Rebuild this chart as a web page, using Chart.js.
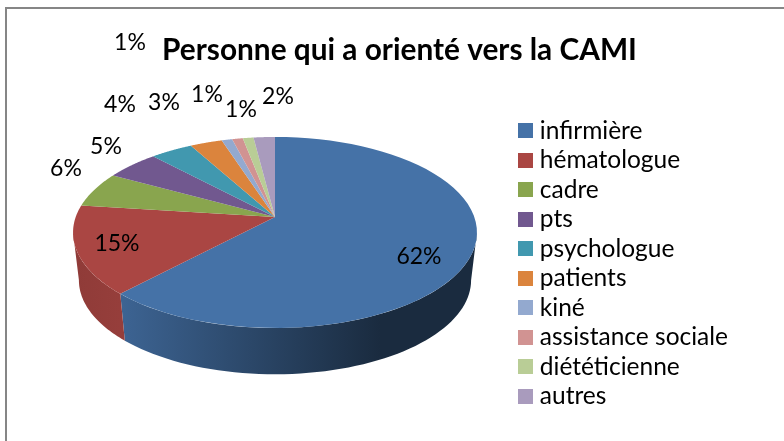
<!DOCTYPE html>
<html>
<head>
<meta charset="utf-8">
<script src="https://cdn.jsdelivr.net/npm/chart.js@4"></script>
<style>
  html, body { margin: 0; background: #fff; overflow: hidden; }
  #frame { position: absolute; left: 5px; top: 7px; right: 0; bottom: 0; border-left: 2px solid #868686; border-top: 2px solid #868686; }
  canvas { position: absolute; left: 0; top: 0; }
</style>
</head>
<body>
<div id="frame"></div>
<canvas id="pie" width="784" height="441"></canvas>
<script>
const categories = ['infirmière', 'hématologue', 'cadre', 'pts', 'psychologue', 'patients', 'kiné', 'assistance sociale', 'diététicienne', 'autres'];
const percents = [62, 15, 6, 5, 4, 3, 1, 1, 1, 2];
const colors = ['#4572A7', '#AA4643', '#89A54E', '#71588F', '#4198AF', '#DB843D', '#93A9CF', '#D19392', '#B9CD96', '#A99BBD'];

// labels were moved by hand in the original, so they sit at fixed spots
const labelSpots = [[419, 257], [117, 244], [66, 169], [106, 147], [120, 105], [164, 103], [207, 95], [241, 110], [130, 43], [278, 97]];

const FONT = 'Lato, "Open Sans", sans-serif';

// the pie is tilted with perspective: apex sits above the middle of the ellipse
const topRim = { cx: 275, cy: 232.5, rx: 199.3, ry: 95.5, apex: -15.5 };
const bottomRim = { cx: 275, cy: 280, rx: 193.5, ry: 94, apex: -15 };
const LEAN = -0.162;
const WALL_FROM = 1.733; // where the rim is at its widest, radians from 12 o'clock

function project(rim, angle) {
  const x = Math.sin(angle), y = -Math.cos(angle);
  const d = 1 + LEAN * y;
  return [rim.cx + x * rim.rx / d, rim.cy + (rim.ry * y + rim.apex) / d];
}

function shade(hex, f) {
  const n = parseInt(hex.slice(1), 16);
  return `rgb(${Math.round((n >> 16) * f)},${Math.round(((n >> 8) & 255) * f)},${Math.round((n & 255) * f)})`;
}

// legend puts half a font size between box and text, too wide here,
// so the squares are images wider than the box the legend reserves
function swatch(color) {
  const c = document.createElement('canvas');
  c.width = c.height = 15;
  const g = c.getContext('2d');
  g.fillStyle = color;
  g.fillRect(0, 0, 15, 15);
  return c;
}

const pie3d = {
  id: 'pie3d',
  beforeDatasetDraw(chart, args) {
    const ctx = chart.ctx;
    const arcs = args.meta.data;
    const spans = arcs.map(a => [a.startAngle + Math.PI / 2, a.endAngle + Math.PI / 2]);

    // side wall first
    arcs.forEach((a, i) => {
      const from = Math.max(spans[i][0], WALL_FROM);
      const to = Math.min(spans[i][1], 2 * Math.PI - WALL_FROM);
      if (to <= from) return;
      const g = ctx.createLinearGradient(73, 0, 477, 0);
      g.addColorStop(0, shade(colors[i], 0.84));
      g.addColorStop(0.117, shade(colors[i], 0.88));
      g.addColorStop(0.5, shade(colors[i], 0.58));
      g.addColorStop(0.76, shade(colors[i], 0.38));
      g.addColorStop(1, shade(colors[i], 0.38));
      ctx.beginPath();
      for (let k = 0; k <= 60; k++) {
        ctx.lineTo(...project(topRim, from + (to - from) * k / 60));
      }
      for (let k = 60; k >= 0; k--) {
        ctx.lineTo(...project(bottomRim, from + (to - from) * k / 60));
      }
      ctx.closePath();
      ctx.fillStyle = g;
      ctx.fill();
    });

    // top face
    arcs.forEach((a, i) => {
      ctx.beginPath();
      ctx.moveTo(topRim.cx, topRim.cy + topRim.apex);
      for (let k = 0; k <= 60; k++) {
        ctx.lineTo(...project(topRim, spans[i][0] + (spans[i][1] - spans[i][0]) * k / 60));
      }
      ctx.closePath();
      ctx.fillStyle = colors[i];
      ctx.fill();
    });

    // data labels
    ctx.font = '23px ' + FONT;
    ctx.fillStyle = '#000';
    ctx.textAlign = 'center';
    ctx.textBaseline = 'middle';
    percents.forEach((p, i) => ctx.fillText(p + '%', labelSpots[i][0], labelSpots[i][1]));
    return false;
  }
};

new Chart(document.getElementById('pie'), {
  type: 'pie',
  data: {
    labels: categories,
    datasets: [{ data: percents, backgroundColor: colors, borderWidth: 0 }]
  },
  plugins: [pie3d],
  options: {
    responsive: false,
    animation: false,
    layout: { padding: { left: 61, right: 46, top: 25, bottom: -61 } },
    plugins: {
      title: {
        display: true,
        text: 'Personne qui a orienté vers la CAMI',
        color: '#000',
        font: { family: FONT, size: 29.8, weight: 'bold' },
        padding: { top: 8, bottom: 30 }
      },
      legend: {
        position: 'right',
        labels: {
          color: '#000',
          font: { family: FONT, size: 24.5 },
          usePointStyle: true,
          pointStyleWidth: 5,
          boxHeight: 15,
          padding: 5,
          generateLabels(chart) {
            return Chart.overrides.pie.plugins.legend.labels.generateLabels(chart)
              .map((item, i) => ({ ...item, pointStyle: swatch(colors[i]) }));
          }
        }
      },
      tooltip: { enabled: false }
    }
  }
});
</script>
</body>
</html>
